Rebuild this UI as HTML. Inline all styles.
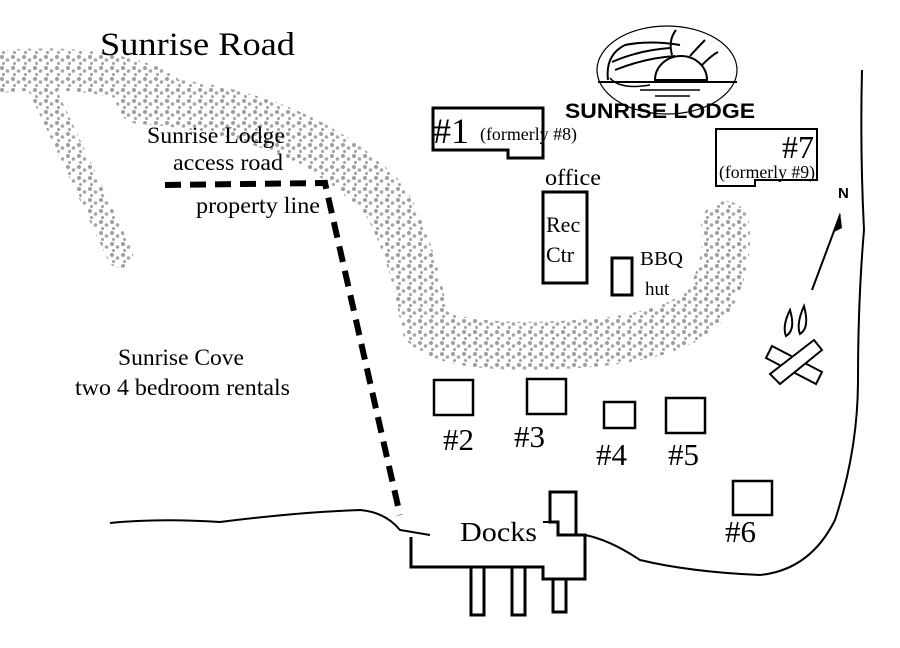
<!DOCTYPE html>
<html><head><meta charset="utf-8"><style>
html,body{margin:0;padding:0;background:#fff;}
svg{display:block;}
text{font-family:"Liberation Serif",serif;fill:#000;}
</style></head><body>
<svg width="900" height="648" viewBox="0 0 900 648" xmlns="http://www.w3.org/2000/svg">
<defs>
<pattern id="sp" width="11" height="11" patternUnits="userSpaceOnUse">
<rect width="11" height="11" fill="#fff"/>
<circle cx="2" cy="2" r="2" fill="#9e9e9e"/>
<circle cx="7.5" cy="5" r="1.8" fill="#a6a6a6"/>
<circle cx="3.5" cy="8.5" r="1.5" fill="#a0a0a0"/>
</pattern>
</defs>
<g fill="none" stroke="url(#sp)" stroke-linecap="round" stroke-linejoin="round">
<path d="M0,72 Q90,62 160,90" stroke-width="42"/>
<path d="M40,85 Q80,170 120,255" stroke-width="26"/>
<path d="M140,100 Q300,110 385,200 Q415,255 425,325 Q450,350 560,345 Q680,340 710,300 Q730,260 725,225" stroke-width="48"/>
</g>
<text x="100" y="55" font-size="33" textLength="195" lengthAdjust="spacingAndGlyphs">Sunrise Road</text>
<text x="147" y="143" font-size="23" textLength="138" lengthAdjust="spacingAndGlyphs">Sunrise Lodge</text>
<text x="173" y="170" font-size="23" textLength="110" lengthAdjust="spacingAndGlyphs">access road</text>
<text x="196" y="213" font-size="23" textLength="124" lengthAdjust="spacingAndGlyphs">property line</text>
<text x="118" y="365" font-size="23" textLength="126" lengthAdjust="spacingAndGlyphs">Sunrise Cove</text>
<text x="75" y="395" font-size="23" textLength="215" lengthAdjust="spacingAndGlyphs">two 4 bedroom rentals</text>
<path d="M165,185 L325,183 L400,515" fill="none" stroke="#000" stroke-width="6" stroke-dasharray="16,9"/>
<ellipse cx="667" cy="70" rx="70" ry="44" fill="none" stroke="#000" stroke-width="1.2"/>
<path d="M608,80 Q605,55 625,45 Q650,40 680,45 M612,62 Q640,50 670,48 M615,70 Q645,58 675,56" fill="none" stroke="#000" stroke-width="2"/>
<path d="M610,78 Q620,90 650,85" fill="none" stroke="#000" stroke-width="1.5"/>
<path d="M655,80 A26,24 0 0 1 707,80 Z" fill="#fff" stroke="#000" stroke-width="2"/>
<path d="M672,55 Q668,40 676,30 M690,56 Q700,45 705,40 M702,65 Q712,55 718,52" fill="none" stroke="#000" stroke-width="2"/>
<line x1="598" y1="82" x2="737" y2="82" stroke="#000" stroke-width="2"/>
<line x1="640" y1="90" x2="700" y2="90" stroke="#000" stroke-width="1.5"/>
<line x1="655" y1="96" x2="690" y2="96" stroke="#000" stroke-width="1.5"/>
<text x="565" y="118" font-size="21" font-weight="bold" style="font-family:'Liberation Sans',sans-serif" textLength="190" lengthAdjust="spacingAndGlyphs">SUNRISE LODGE</text>
<g fill="none" stroke="#000" stroke-width="3">
<path d="M433,108 L543,108 L543,158 L508,158 L508,150 L433,150 Z"/>
<path d="M716,129 L817,129 L817,180 L755,180 L755,186 L716,186 Z" stroke-width="2"/>
<rect x="543" y="192" width="44" height="91"/>
<rect x="612" y="258" width="20" height="37"/>
<rect x="434" y="380" width="39" height="35" stroke-width="2.5"/>
<rect x="527" y="379" width="39" height="35" stroke-width="2.5"/>
<rect x="604" y="402" width="31" height="26" stroke-width="2.5"/>
<rect x="666" y="398" width="39" height="35" stroke-width="2.5"/>
<rect x="733" y="481" width="39" height="34" stroke-width="2.5"/>
</g>
<text x="433" y="143" font-size="36">#1</text>
<text x="480" y="140" font-size="18" textLength="97" lengthAdjust="spacingAndGlyphs">(formerly #8)</text>
<text x="782" y="158" font-size="32">#7</text>
<text x="719" y="178" font-size="18" textLength="96" lengthAdjust="spacingAndGlyphs">(formerly #9)</text>
<text x="545" y="185" font-size="23" textLength="56" lengthAdjust="spacingAndGlyphs">office</text>
<text x="546" y="232" font-size="22">Rec</text>
<text x="546" y="262" font-size="22">Ctr</text>
<text x="640" y="265" font-size="20" textLength="43" lengthAdjust="spacingAndGlyphs">BBQ</text>
<text x="645" y="295" font-size="19">hut</text>
<text x="443" y="450" font-size="31">#2</text>
<text x="514" y="447" font-size="31">#3</text>
<text x="596" y="465" font-size="31">#4</text>
<text x="668" y="465" font-size="31">#5</text>
<text x="725" y="542" font-size="31">#6</text>
<path d="M110,523 Q160,518 220,522 Q300,512 360,510 Q385,512 400,530 L430,535" fill="none" stroke="#000" stroke-width="2"/>
<path d="M585,535 Q610,540 640,560 Q690,572 760,575 Q810,570 835,520 Q858,450 858,380 Q858,300 864,230 Q860,150 862,70" fill="none" stroke="#000" stroke-width="2"/>
<path d="M411,537 L411,567 L543,567 L543,579 L585,579 L585,535 L558,535 L558,522 L550,522 L550,492 L576,492 L576,535" fill="none" stroke="#000" stroke-width="3"/>
<line x1="543" y1="522" x2="558" y2="522" stroke="#000" stroke-width="2"/>
<g fill="#fff" stroke="#000" stroke-width="3">
<rect x="471" y="567" width="13" height="48"/>
<rect x="512" y="567" width="13" height="48"/>
<rect x="553" y="579" width="13" height="33"/>
</g>
<text x="460" y="541" font-size="27" textLength="77" lengthAdjust="spacingAndGlyphs">Docks</text>
<text x="838" y="198" font-size="15" font-weight="bold" style="font-family:'Liberation Sans',sans-serif">N</text>
<line x1="812" y1="290" x2="840" y2="215" stroke="#000" stroke-width="2"/>
<path d="M840,212 L834,232 L842,228 Z" fill="#000"/>
<g stroke="#000" stroke-width="2" fill="#fff">
<path d="M790,310 Q782,326 786,336 Q796,330 790,310Z"/>
<path d="M804,306 Q796,324 800,334 Q810,328 804,306Z"/>
<path d="M772,346 L822,372 L816,384 L766,358 Z"/>
<path d="M770,374 L814,340 L822,350 L780,384 Z"/>
</g>
</svg>
</body></html>
